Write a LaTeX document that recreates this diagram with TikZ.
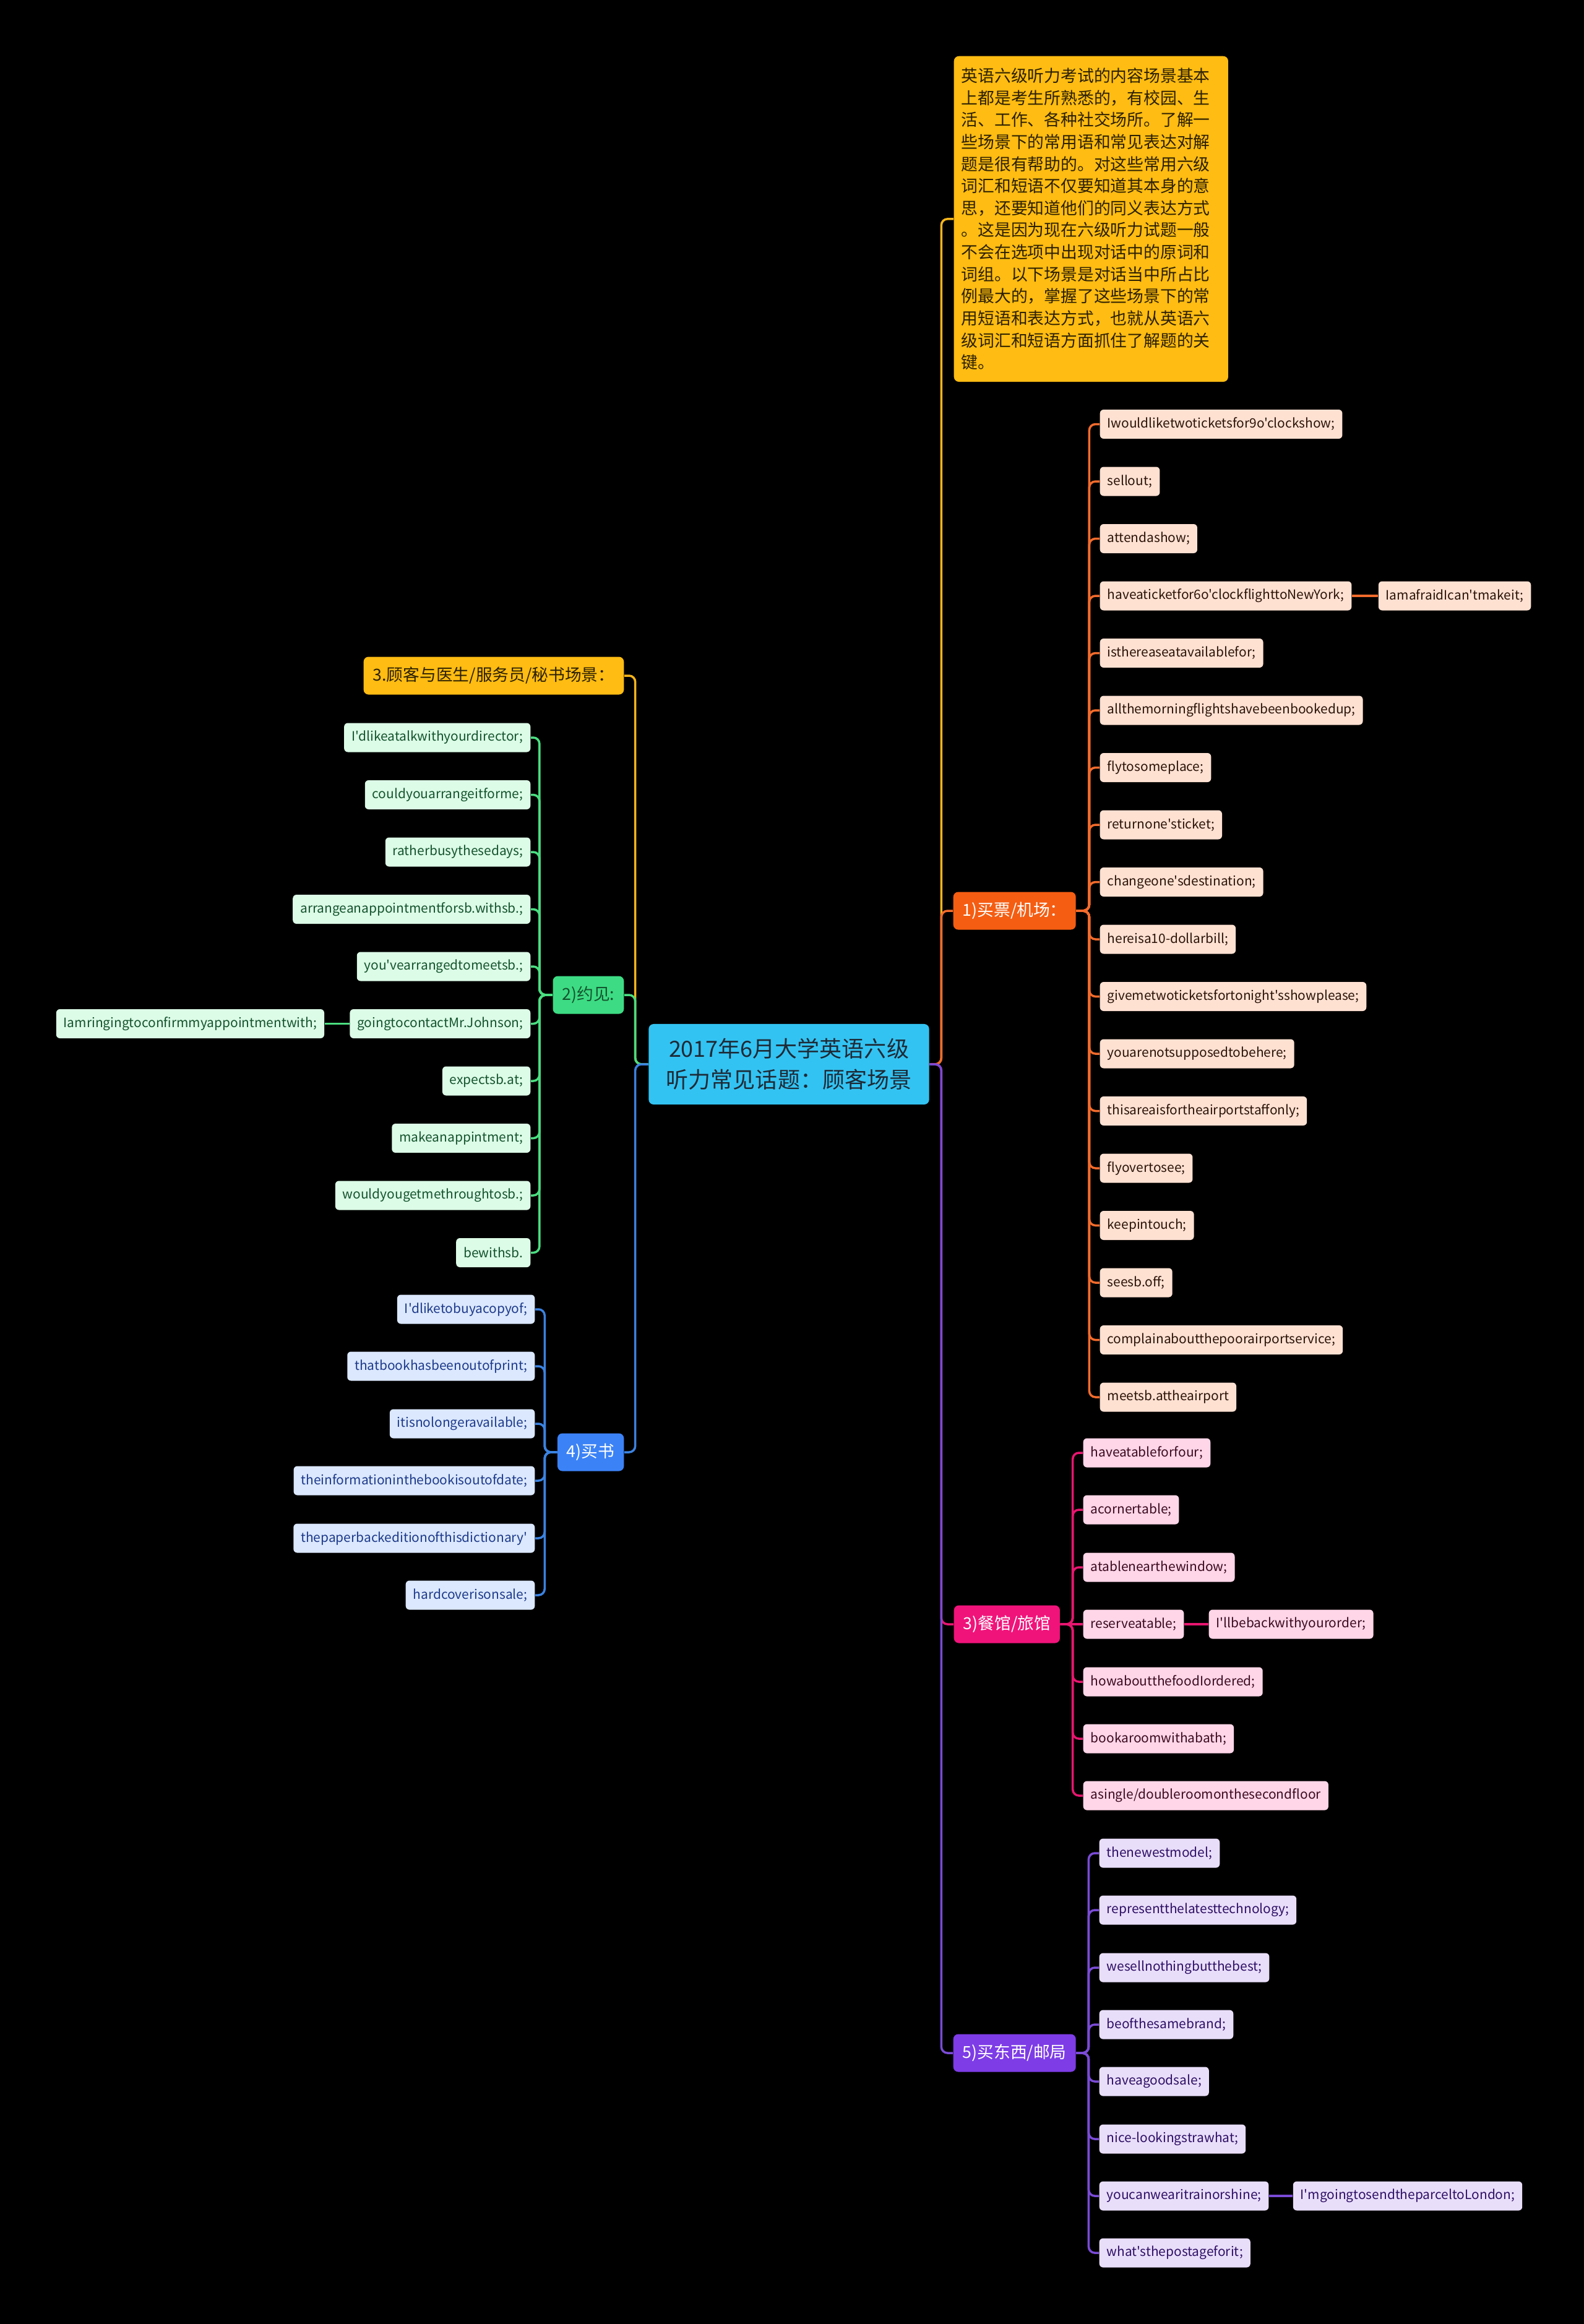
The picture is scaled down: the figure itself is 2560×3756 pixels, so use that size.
\documentclass[tikz,border=0pt]{standalone}
\usepackage{fontspec}
\setmainfont{Noto Sans CJK SC}[Ligatures=TeXOff]
\usepackage{tikz}
\usetikzlibrary{positioning}

\definecolor{rootcol}{HTML}{33C3F2}
\definecolor{roottext}{HTML}{1E2A36}
\definecolor{yelcol}{HTML}{FFBC12}
\definecolor{yeltext}{HTML}{2B2000}
\definecolor{yelline}{HTML}{F5B51C}
\definecolor{orcol}{HTML}{F55D12}
\definecolor{orleafcol}{HTML}{FFE1D2}
\definecolor{orline}{HTML}{F26B2C}
\definecolor{ortext}{HTML}{2A1408}
\definecolor{pkcol}{HTML}{F0137A}
\definecolor{pkleafcol}{HTML}{FFD6E8}
\definecolor{pkline}{HTML}{E8166F}
\definecolor{pktext}{HTML}{3B0A1F}
\definecolor{pucol}{HTML}{7D3CE6}
\definecolor{puleafcol}{HTML}{E9DEFA}
\definecolor{puline}{HTML}{7A4BD6}
\definecolor{putext}{HTML}{2E1065}
\definecolor{grcol}{HTML}{3DDC84}
\definecolor{grleafcol}{HTML}{DCFCE7}
\definecolor{grline}{HTML}{4ADE80}
\definecolor{grtext}{HTML}{14532D}
\definecolor{blcol}{HTML}{3B82F6}
\definecolor{blleafcol}{HTML}{DBE8FE}
\definecolor{blline}{HTML}{3B82E0}
\definecolor{bltext}{HTML}{1E3A8A}

\newcommand{\rootfont}{\fontsize{10.24pt}{14.2pt}\selectfont}
\newcommand{\introfont}{\fontsize{7.62pt}{10.13pt}\selectfont}
\newcommand{\branchfont}{\fontsize{7.6pt}{9pt}\selectfont}
\newcommand{\leaffont}{\fontsize{5.95pt}{7pt}\selectfont}

\tikzset{
  rootbox/.style={fill=rootcol, text=roottext, rounded corners=0.08cm, minimum width=4.53cm, minimum height=1.3cm, align=center, font=\rootfont},
  introbox/.style={fill=yelcol, text=yeltext, rounded corners=0.08cm, minimum width=4.43cm, minimum height=5.26cm, text width=4.19cm, inner xsep=0.12cm, align=left, font=\introfont},
  branch/.style={rounded corners=0.08cm, minimum height=0.61cm, inner xsep=0.15cm, inner ysep=0pt, text=white, font=\branchfont},
  leaf/.style={rounded corners=0.06cm, minimum height=0.47cm, inner xsep=0.12cm, inner ysep=0pt, font=\leaffont},
  orleaf/.style={leaf, fill=orleafcol, text=ortext},
  pkleaf/.style={leaf, fill=pkleafcol, text=pktext},
  puleaf/.style={leaf, fill=puleafcol, text=putext},
  grleaf/.style={leaf, fill=grleafcol, text=grtext},
  blleaf/.style={leaf, fill=blleafcol, text=bltext},
  conn/.style={line width=1pt, rounded corners=0.1cm},
  yline/.style={conn, draw=yelline},
  oline/.style={conn, draw=orline},
  pline/.style={conn, draw=pkline},
  uline/.style={conn, draw=puline},
  gline/.style={conn, draw=grline},
  bline/.style={conn, draw=blline}
}

\begin{document}
\begin{tikzpicture}[x=0.01cm, y=-0.01cm]
    % Background
    \fill[black] (0,0) rectangle (2560,3756);
    \useasboundingbox (0,0) rectangle (2560,3756);

    % Root
    \node[rootbox] (root) at (1275,1720) {2017年6月大学英语六级\\听力常见话题：顾客场景};

    % Intro note
    \node[introbox, anchor=north west] (intro) at (1541,90) {英语六级听力考试的内容场景基本\\上都是考生所熟悉的，有校园、生\\活、工作、各种社交场所。了解一\\些场景下的常用语和常见表达对解\\题是很有帮助的。对这些常用六级\\词汇和短语不仅要知道其本身的意\\思，还要知道他们的同义表达方式\\。这是因为现在六级听力试题一般\\不会在选项中出现对话中的原词和\\词组。以下场景是对话当中所占比\\例最大的，掌握了这些场景下的常\\用短语和表达方式，也就从英语六\\级词汇和短语方面抓住了解题的关\\键。};

    % Branches
    \node[branch, fill=orcol, anchor=west] (ob) at (1540,1472) {1)买票/机场：};
    \node[branch, fill=pkcol, anchor=west] (pb) at (1541,2625) {3)餐馆/旅馆};
    \node[branch, fill=pucol, anchor=west] (ub) at (1540,3318) {5)买东西/邮局};
    \node[branch, fill=yelcol, text=yeltext, anchor=east] (yb) at (1009,1092) {3.顾客与医生/服务员/秘书场景：};
    \node[branch, fill=grcol, text=grtext, anchor=east] (gb) at (1009,1608) {2)约见:};
    \node[branch, fill=blcol, anchor=east] (bb) at (1009,2347) {4)买书};

    % Main connectors
    \draw[yline] (root.east) -- ++(19,0) |- (intro.west);
    \draw[oline] (root.east) -- ++(19,0) |- (ob.west);
    \draw[pline] (root.east) -- ++(19,0) |- (pb.west);
    \draw[uline] (root.east) -- ++(19,0) |- (ub.west);
    \draw[yline] (root.west) -- ++(-21,0) |- (yb.east);
    \draw[gline] (root.west) -- ++(-21,0) |- (gb.east);
    \draw[bline] (root.west) -- ++(-21,0) |- (bb.east);

    % 1) tickets / airport
    \node[orleaf, anchor=west] (o1) at (1777,685.5) {Iwouldliketwoticketsfor9o'clockshow;};
    \node[orleaf, anchor=west] (o2) at (1777,778) {sellout;};
    \node[orleaf, anchor=west] (o3) at (1777,870.5) {attendashow;};
    \node[orleaf, anchor=west] (o4) at (1777,963) {haveaticketfor6o'clockflighttoNewYork;};
    \node[orleaf, anchor=west] (o5) at (1777,1055.5) {isthereaseatavailablefor;};
    \node[orleaf, anchor=west] (o6) at (1777,1148) {allthemorningflightshavebeenbookedup;};
    \node[orleaf, anchor=west] (o7) at (1777,1240.5) {flytosomeplace;};
    \node[orleaf, anchor=west] (o8) at (1777,1333) {returnone'sticket;};
    \node[orleaf, anchor=west] (o9) at (1777,1425.5) {changeone'sdestination;};
    \node[orleaf, anchor=west] (o10) at (1777,1518) {hereisa10-dollarbill;};
    \node[orleaf, anchor=west] (o11) at (1777,1610.5) {givemetwoticketsfortonight'sshowplease;};
    \node[orleaf, anchor=west] (o12) at (1777,1703) {youarenotsupposedtobehere;};
    \node[orleaf, anchor=west] (o13) at (1777,1795.5) {thisareaisfortheairportstaffonly;};
    \node[orleaf, anchor=west] (o14) at (1777,1888) {flyovertosee;};
    \node[orleaf, anchor=west] (o15) at (1777,1980.5) {keepintouch;};
    \node[orleaf, anchor=west] (o16) at (1777,2073) {seesb.off;};
    \node[orleaf, anchor=west] (o17) at (1777,2165.5) {complainaboutthepoorairportservice;};
    \node[orleaf, anchor=west] (o18) at (1777,2258) {meetsb.attheairport};
    \node[orleaf, right=0.42cm of o4] (o4b) {IamafraidIcan'tmakeit;};

    \draw[oline] (ob.east) -- ++(21,0) |- (o1.west);
    \draw[oline] (ob.east) -- ++(21,0) |- (o2.west);
    \draw[oline] (ob.east) -- ++(21,0) |- (o3.west);
    \draw[oline] (ob.east) -- ++(21,0) |- (o4.west);
    \draw[oline] (ob.east) -- ++(21,0) |- (o5.west);
    \draw[oline] (ob.east) -- ++(21,0) |- (o6.west);
    \draw[oline] (ob.east) -- ++(21,0) |- (o7.west);
    \draw[oline] (ob.east) -- ++(21,0) |- (o8.west);
    \draw[oline] (ob.east) -- ++(21,0) |- (o9.west);
    \draw[oline] (ob.east) -- ++(21,0) |- (o10.west);
    \draw[oline] (ob.east) -- ++(21,0) |- (o11.west);
    \draw[oline] (ob.east) -- ++(21,0) |- (o12.west);
    \draw[oline] (ob.east) -- ++(21,0) |- (o13.west);
    \draw[oline] (ob.east) -- ++(21,0) |- (o14.west);
    \draw[oline] (ob.east) -- ++(21,0) |- (o15.west);
    \draw[oline] (ob.east) -- ++(21,0) |- (o16.west);
    \draw[oline] (ob.east) -- ++(21,0) |- (o17.west);
    \draw[oline] (ob.east) -- ++(21,0) |- (o18.west);
    \draw[oline] (o4) -- (o4b);

    % 3) restaurant / hotel
    \node[pkleaf, anchor=west] (p1) at (1750,2348) {haveatableforfour;};
    \node[pkleaf, anchor=west] (p2) at (1750,2440) {acornertable;};
    \node[pkleaf, anchor=west] (p3) at (1750,2533) {atablenearthewindow;};
    \node[pkleaf, anchor=west] (p4) at (1750,2625) {reserveatable;};
    \node[pkleaf, anchor=west] (p5) at (1750,2718) {howaboutthefoodIordered;};
    \node[pkleaf, anchor=west] (p6) at (1750,2810) {bookaroomwithabath;};
    \node[pkleaf, anchor=west] (p7) at (1750,2902) {asingle/doubleroomonthesecondfloor};
    \node[pkleaf, right=0.39cm of p4] (p4b) {I'llbebackwithyourorder;};

    \draw[pline] (pb.east) -- ++(20,0) |- (p1.west);
    \draw[pline] (pb.east) -- ++(20,0) |- (p2.west);
    \draw[pline] (pb.east) -- ++(20,0) |- (p3.west);
    \draw[pline] (pb.east) -- (p4.west);
    \draw[pline] (pb.east) -- ++(20,0) |- (p5.west);
    \draw[pline] (pb.east) -- ++(20,0) |- (p6.west);
    \draw[pline] (pb.east) -- ++(20,0) |- (p7.west);
    \draw[pline] (p4) -- (p4b);

    % 5) shopping / post office
    \node[puleaf, anchor=west] (u1) at (1776,2995) {thenewestmodel;};
    \node[puleaf, anchor=west] (u2) at (1776,3087) {representthelatesttechnology;};
    \node[puleaf, anchor=west] (u3) at (1776,3180) {wesellnothingbutthebest;};
    \node[puleaf, anchor=west] (u4) at (1776,3272) {beofthesamebrand;};
    \node[puleaf, anchor=west] (u5) at (1776,3364) {haveagoodsale;};
    \node[puleaf, anchor=west] (u6) at (1776,3457) {nice-lookingstrawhat;};
    \node[puleaf, anchor=west] (u7) at (1776,3549) {youcanwearitrainorshine;};
    \node[puleaf, anchor=west] (u8) at (1776,3641) {what'sthepostageforit;};
    \node[puleaf, right=0.38cm of u7] (u7b) {I'mgoingtosendtheparceltoLondon;};

    \draw[uline] (ub.east) -- ++(20,0) |- (u1.west);
    \draw[uline] (ub.east) -- ++(20,0) |- (u2.west);
    \draw[uline] (ub.east) -- ++(20,0) |- (u3.west);
    \draw[uline] (ub.east) -- ++(20,0) |- (u4.west);
    \draw[uline] (ub.east) -- ++(20,0) |- (u5.west);
    \draw[uline] (ub.east) -- ++(20,0) |- (u6.west);
    \draw[uline] (ub.east) -- ++(20,0) |- (u7.west);
    \draw[uline] (ub.east) -- ++(20,0) |- (u8.west);
    \draw[uline] (u7) -- (u7b);

    % 2) appointments
    \node[grleaf, anchor=east] (g1) at (858,1192) {I'dlikeatalkwithyourdirector;};
    \node[grleaf, anchor=east] (g2) at (858,1284.5) {couldyouarrangeitforme;};
    \node[grleaf, anchor=east] (g3) at (858,1377) {ratherbusythesedays;};
    \node[grleaf, anchor=east] (g4) at (858,1469.5) {arrangeanappointmentforsb.withsb.;};
    \node[grleaf, anchor=east] (g5) at (858,1562) {you'vearrangedtomeetsb.;};
    \node[grleaf, anchor=east] (g6) at (858,1654.5) {goingtocontactMr.Johnson;};
    \node[grleaf, anchor=east] (g7) at (858,1747) {expectsb.at;};
    \node[grleaf, anchor=east] (g8) at (858,1839.5) {makeanappintment;};
    \node[grleaf, anchor=east] (g9) at (858,1932) {wouldyougetmethroughtosb.;};
    \node[grleaf, anchor=east] (g10) at (858,2024.5) {bewithsb.};
    \node[grleaf, left=0.4cm of g6] (g6b) {Iamringingtoconfirmmyappointmentwith;};

    \draw[gline] (gb.west) -- ++(-21,0) |- (g1.east);
    \draw[gline] (gb.west) -- ++(-21,0) |- (g2.east);
    \draw[gline] (gb.west) -- ++(-21,0) |- (g3.east);
    \draw[gline] (gb.west) -- ++(-21,0) |- (g4.east);
    \draw[gline] (gb.west) -- ++(-21,0) |- (g5.east);
    \draw[gline] (gb.west) -- ++(-21,0) |- (g6.east);
    \draw[gline] (gb.west) -- ++(-21,0) |- (g7.east);
    \draw[gline] (gb.west) -- ++(-21,0) |- (g8.east);
    \draw[gline] (gb.west) -- ++(-21,0) |- (g9.east);
    \draw[gline] (gb.west) -- ++(-21,0) |- (g10.east);
    \draw[gline] (g6) -- (g6b);

    % 4) buying books
    \node[blleaf, anchor=east] (b1) at (865,2116) {I'dliketobuyacopyof;};
    \node[blleaf, anchor=east] (b2) at (865,2208) {thatbookhasbeenoutofprint;};
    \node[blleaf, anchor=east] (b3) at (865,2301) {itisnolongeravailable;};
    \node[blleaf, anchor=east] (b4) at (865,2393) {theinformationinthebookisoutofdate;};
    \node[blleaf, anchor=east] (b5) at (865,2486) {thepaperbackeditionofthisdictionary'};
    \node[blleaf, anchor=east] (b6) at (865,2578) {hardcoverisonsale;};

    \draw[bline] (bb.west) -- ++(-20,0) |- (b1.east);
    \draw[bline] (bb.west) -- ++(-20,0) |- (b2.east);
    \draw[bline] (bb.west) -- ++(-20,0) |- (b3.east);
    \draw[bline] (bb.west) -- ++(-20,0) |- (b4.east);
    \draw[bline] (bb.west) -- ++(-20,0) |- (b5.east);
    \draw[bline] (bb.west) -- ++(-20,0) |- (b6.east);
\end{tikzpicture}
\end{document}
